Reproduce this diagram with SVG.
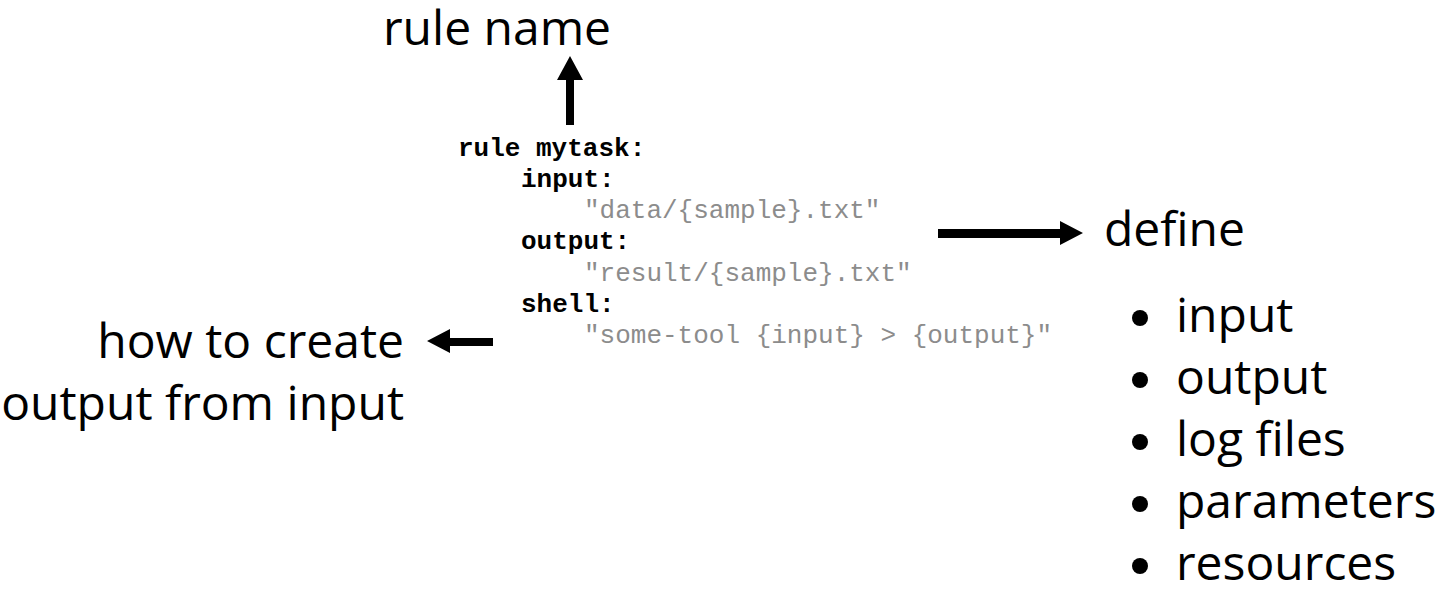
<svg xmlns="http://www.w3.org/2000/svg" width="1442" height="597" viewBox="0 0 1442 597">
<style>
.lbl{font-family:"Open Sans","Noto Sans",sans-serif;font-size:48px;fill:#000}
.kw{font-family:"Liberation Mono",monospace;font-size:26px;font-weight:bold;fill:#000}
.str{font-family:"Liberation Mono",monospace;font-size:26px;fill:#8c8c8c}
.arr{fill:#000}
</style>
<rect width="1442" height="597" fill="#fff"/>
<g id="code">
<text class="kw" x="458" y="156">rule mytask:</text>
<text class="kw" x="521" y="187">input:</text>
<text class="str" x="584" y="218">"data/{sample}.txt"</text>
<text class="kw" x="521" y="249">output:</text>
<text class="str" x="584" y="281">"result/{sample}.txt"</text>
<text class="kw" x="521" y="312">shell:</text>
<text class="str" x="584" y="343">"some-tool {input} &gt; {output}"</text>
</g>
<g id="rule-name"><text class="lbl" x="497" y="45" text-anchor="middle">rule name</text></g>
<g id="how-to"><text class="lbl" text-anchor="end"><tspan x="404" y="358">how to create</tspan><tspan x="404" y="420">output from input</tspan></text></g>
<g id="define"><text class="lbl" x="1104" y="246">define</text></g>
<g id="list">
<circle cx="1140" cy="318" r="8"/><text class="lbl" x="1176" y="332">input</text>
<circle cx="1140" cy="380" r="8"/><text class="lbl" x="1176" y="394">output</text>
<circle cx="1140" cy="442" r="8"/><text class="lbl" x="1176" y="456">log files</text>
<circle cx="1140" cy="504" r="8"/><text class="lbl" x="1176" y="518">parameters</text>
<circle cx="1140" cy="566" r="8"/><text class="lbl" x="1176" y="580">resources</text>
</g>
<g id="connectors">
<path class="arr" d="M566,125 V80 H557 L570,56 L583,80 H574 V125 Z"/>
<path class="arr" d="M938,229 H1060 V221 L1083,233 L1060,245 V238 H938 Z"/>
<path class="arr" d="M493,338 H450 V329 L427,341 L450,353 V346 H493 Z"/>
</g>
</svg>
